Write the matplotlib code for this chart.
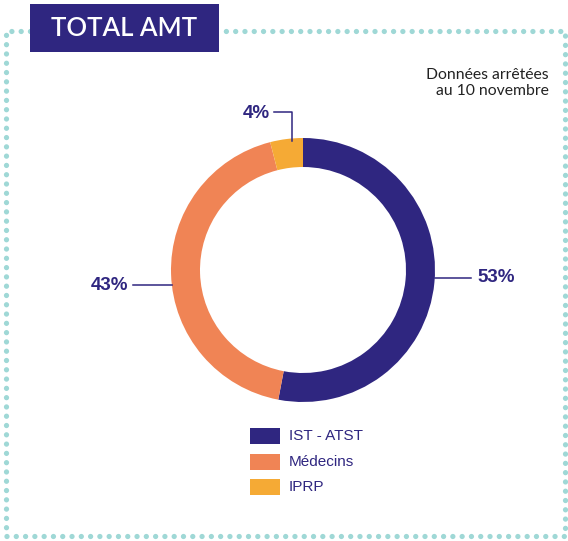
import matplotlib
matplotlib.use("Agg")
import matplotlib.pyplot as plt
from matplotlib.patches import Rectangle

# data
categories = ["IST - ATST", "Médecins", "IPRP"]
shares = [53, 43, 4]
labels = ["53%", "43%", "4%"]
colors = ["#2f2680", "#f08455", "#f5aa35"]

NAVY = "#2f2680"
TEAL = "#9fd8d6"
W, H = 568, 541

fig = plt.figure(figsize=(W / 100, H / 100), dpi=100)
ax = fig.add_axes([0, 0, 1, 1])


def Y(y):
    return H - y


# donut
cx, cy, r = 303, Y(270), 132
ax.pie(shares, colors=colors, startangle=90, counterclock=False, center=(cx, cy),
       radius=r, wedgeprops=dict(width=29, edgecolor="none"), frame=True)
ax.set_xlim(0, W)
ax.set_ylim(0, H)
ax.set_aspect("equal")
ax.axis("off")

# dotted frame
dots = dict(color=TEAL, lw=3.8, linestyle=(0, (0.01, 1.75)), dash_capstyle="round")
ax.plot([30, 6, 6, 565, 565, 220], [Y(31), Y(31), Y(536), Y(536), Y(31), Y(31)], **dots)

# title box
ax.add_patch(Rectangle((30, Y(52)), 189, 48, facecolor=NAVY, edgecolor="none", zorder=3))
ax.text(124.5, Y(29), "TOTAL AMT", color="white", fontsize=18.5, family="Lato",
        fontweight="semibold", ha="center", va="center", zorder=4)

ax.text(549, Y(83), "Données arrêtées\nau 10 novembre", color="#222222", fontsize=11.3,
        family="Lato", ha="right", va="center", linespacing=1.25)

# leader lines and labels
ln = dict(color=NAVY, lw=1.1)
pct = dict(color=NAVY, fontsize=13.5, fontweight="bold", family="Liberation Sans", va="center")
ax.plot([435, 471], [Y(278), Y(278)], **ln)
ax.text(477, Y(278), labels[0], ha="left", **pct)
ax.plot([133, 172], [Y(285), Y(285)], **ln)
ax.text(128, Y(285), labels[1], ha="right", **pct)
ax.plot([274, 292, 292], [Y(112), Y(112), Y(141)], **ln)
ax.text(270, Y(113), labels[2], ha="right", **pct)

# legend
for i, (name, c) in enumerate(zip(categories, colors)):
    yt = 428 + i * 25.5
    ax.add_patch(Rectangle((250, Y(yt + 16)), 30, 16, facecolor=c, edgecolor="none"))
    ax.text(289, Y(yt + 8), name, color=NAVY, fontsize=11, family="Liberation Sans",
            ha="left", va="center")

fig.savefig("out.png", dpi=100)
